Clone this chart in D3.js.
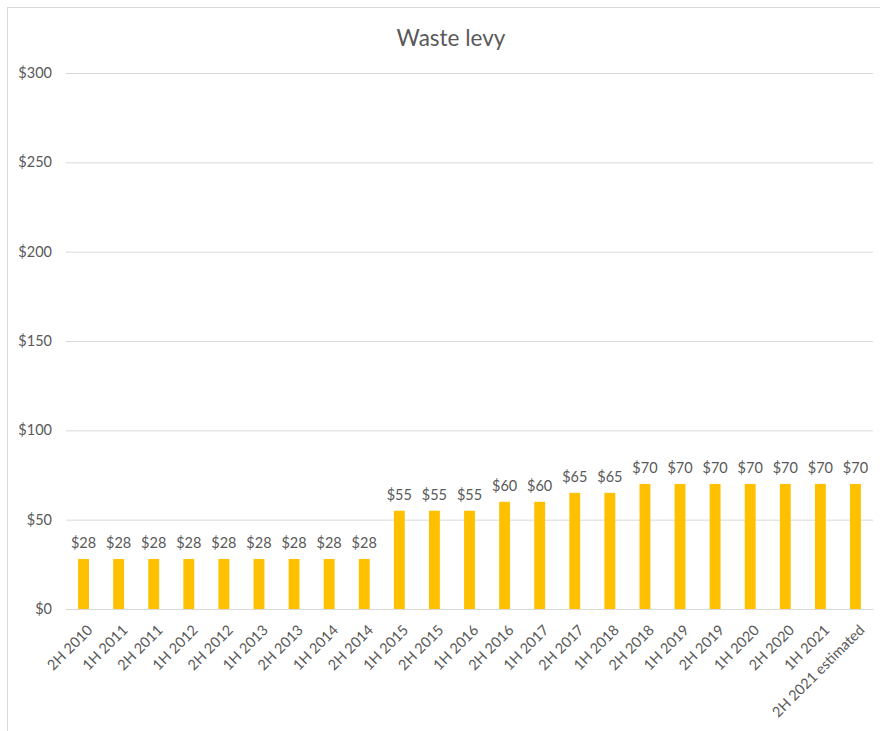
<!DOCTYPE html>
<html><head><meta charset="utf-8">
<script src="https://cdn.jsdelivr.net/npm/d3@7"></script>
<style>body{margin:0;background:#fff;} text{font-family:Lato,"Open Sans",sans-serif;}</style>
</head><body>
<svg id="c" width="880" height="731"></svg>
<script>
const categories = ["2H 2010","1H 2011","2H 2011","1H 2012","2H 2012","1H 2013","2H 2013","1H 2014","2H 2014","1H 2015","2H 2015","1H 2016","2H 2016","1H 2017","2H 2017","1H 2018","2H 2018","1H 2019","2H 2019","1H 2020","2H 2020","1H 2021","2H 2021  estimated"];
const values = [28,28,28,28,28,28,28,28,28,55,55,55,60,60,65,65,70,70,70,70,70,70,70];
const yTicks = [0,50,100,150,200,250,300];
const title = "Waste levy";

(function(){
const svg = d3.select("#c");
svg.append("rect").attr("x",7.5).attr("y",7.5).attr("width",900).attr("height",900)
  .attr("fill","#fff").attr("stroke","#d9d9d9").attr("stroke-width",1);

const pL=66, pR=873, pT=73, pB=609;
const x = d3.scaleBand().domain(categories).range([pL,pR]).paddingInner(0.69).paddingOuter(0.345);
const y = d3.scaleLinear().domain([0,300]).range([pB,pT]);

svg.append("text").attr("x",451).attr("y",46).attr("text-anchor","middle")
  .attr("font-size",22.5).attr("fill","#595959").text(title);

const ya = svg.append("g").attr("transform",`translate(${pL},0)`)
  .call(d3.axisLeft(y).tickValues(yTicks).tickSize(-(pR-pL)).tickPadding(14).tickFormat(d=>"$"+d));
ya.select(".domain").remove();
ya.selectAll(".tick line").attr("stroke","#d9d9d9").attr("stroke-width",1);
ya.selectAll(".tick text").attr("fill","#595959").attr("font-size",14.5).attr("font-family","Lato,sans-serif");

svg.append("g").selectAll("rect").data(values).join("rect")
  .attr("x",(d,i)=>x(categories[i])).attr("width",x.bandwidth())
  .attr("y",d=>y(d)).attr("height",d=>y(0)-y(d)).attr("fill","#FFC000");

svg.append("g").selectAll("text").data(values).join("text")
  .attr("x",(d,i)=>x(categories[i])+x.bandwidth()/2).attr("y",d=>y(d)-10.5)
  .attr("text-anchor","middle").attr("font-size",14.5).attr("fill","#595959")
  .text(d=>"$"+d);

const xa = svg.append("g").attr("transform",`translate(0,${pB})`)
  .call(d3.axisBottom(x).tickSize(0).tickPadding(0));
xa.select(".domain").attr("stroke","#d9d9d9");
xa.selectAll(".tick text").attr("fill","#595959").attr("font-size",14.5).attr("font-family","Lato,sans-serif")
  .attr("text-anchor","end").attr("dy",0)
  .attr("transform","translate(10,22) rotate(-45)");
})();
</script>
</body></html>
